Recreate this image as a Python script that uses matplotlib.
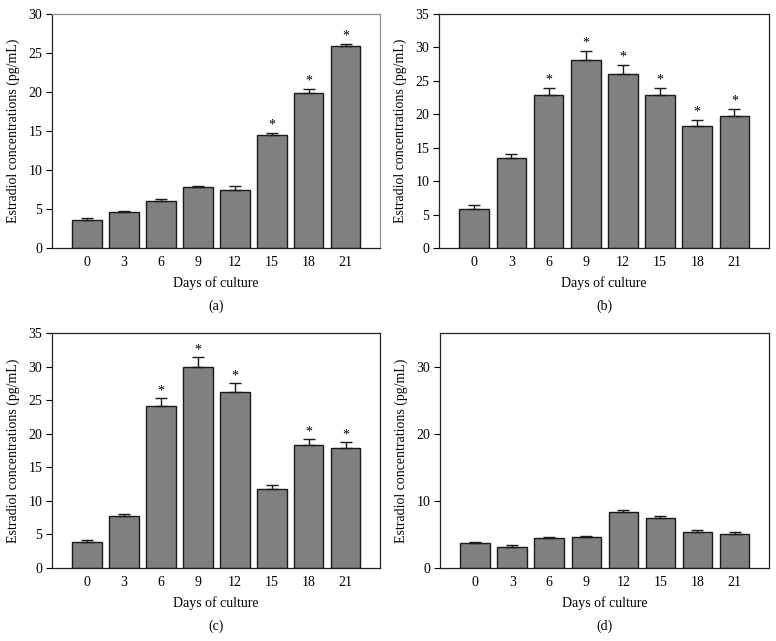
import numpy as np
import matplotlib
matplotlib.use("Agg")
import matplotlib.pyplot as plt

plt.rcParams["font.family"] = ["Liberation Serif", "DejaVu Serif"]

days = ["0", "3", "6", "9", "12", "15", "18", "21"]

# panel (a)
mean_a = [3.6, 4.6, 6.0, 7.8, 7.5, 14.5, 19.9, 25.9]
err_a = [0.2, 0.1, 0.3, 0.15, 0.4, 0.25, 0.5, 0.3]
star_a = [0, 0, 0, 0, 0, 1, 1, 1]

# panel (b)
mean_b = [5.8, 13.4, 22.9, 28.1, 26.1, 22.9, 18.3, 19.8]
err_b = [0.6, 0.6, 1.1, 1.4, 1.3, 1.1, 0.9, 1.0]
star_b = [0, 0, 1, 1, 1, 1, 1, 1]

# panel (c)
mean_c = [3.8, 7.7, 24.1, 29.9, 26.2, 11.7, 18.3, 17.8]
err_c = [0.3, 0.4, 1.2, 1.5, 1.3, 0.6, 0.9, 0.9]
star_c = [0, 0, 1, 1, 1, 0, 1, 1]

# panel (d)
mean_d = [3.7, 3.2, 4.4, 4.6, 8.3, 7.4, 5.4, 5.0]
err_d = [0.2, 0.2, 0.2, 0.2, 0.4, 0.4, 0.3, 0.3]
star_d = [0, 0, 0, 0, 0, 0, 0, 0]

panels = [
    ("(a)", mean_a, err_a, star_a, 30, np.arange(0, 31, 5)),
    ("(b)", mean_b, err_b, star_b, 35, np.arange(0, 36, 5)),
    ("(c)", mean_c, err_c, star_c, 35, np.arange(0, 36, 5)),
    ("(d)", mean_d, err_d, star_d, 35, np.arange(0, 31, 10)),
]

# axes rectangles in pixels (left, top, right, bottom)
W, H = 776, 641
boxes = [(52, 14, 380, 248), (439, 14, 769, 248),
         (52, 333, 380, 568), (440, 333, 769, 568)]

fig = plt.figure(figsize=(W / 100, H / 100), dpi=100)
x = np.arange(len(days))

for (lab, mean, err, star, ymax, yt), (l, t, r, b) in zip(panels, boxes):
    ax = fig.add_axes([l / W, 1 - b / H, (r - l) / W, (b - t) / H])
    ax.bar(x, mean, width=0.8, color="#808080", edgecolor="#1a1a1a", linewidth=1.0, zorder=2)
    ax.errorbar(x, mean, yerr=[np.zeros(len(err)), err], fmt="none", ecolor="#1a1a1a",
                elinewidth=1.0, capsize=4.5, capthick=1.0, zorder=3)
    for i in range(len(x)):
        if star[i]:
            ax.text(x[i], mean[i] + err[i] + ymax * 0.004, "*", ha="center", va="bottom", fontsize=10)
    ax.set_xlim(-0.95, 7.93)
    ax.set_ylim(0, ymax)
    ax.set_xticks(x)
    ax.set_xticklabels(days)
    ax.set_yticks(yt)
    ax.tick_params(axis="x", length=0, pad=6, labelsize=10)
    ax.tick_params(axis="y", direction="out", length=4, width=0.8, labelsize=10, pad=3)
    ax.set_xlabel("Days of culture", fontsize=10, labelpad=5)
    ax.set_ylabel("Estradiol concentrations (pg/mL)", fontsize=10, labelpad=6)
    ax.spines["left"].set_color("#222222")
    ax.spines["bottom"].set_color("#222222")
    if lab == "(a)":
        ax.spines["top"].set_color("#909090")
        ax.spines["right"].set_color("#909090")
    else:
        ax.spines["top"].set_color("#222222")
        ax.spines["right"].set_color("#222222")
    for s in ax.spines.values():
        s.set_linewidth(0.9)
    ax.text(0.5, -0.25, lab, transform=ax.transAxes, ha="center", va="center", fontsize=10)

fig.savefig("out.png", dpi=100)
